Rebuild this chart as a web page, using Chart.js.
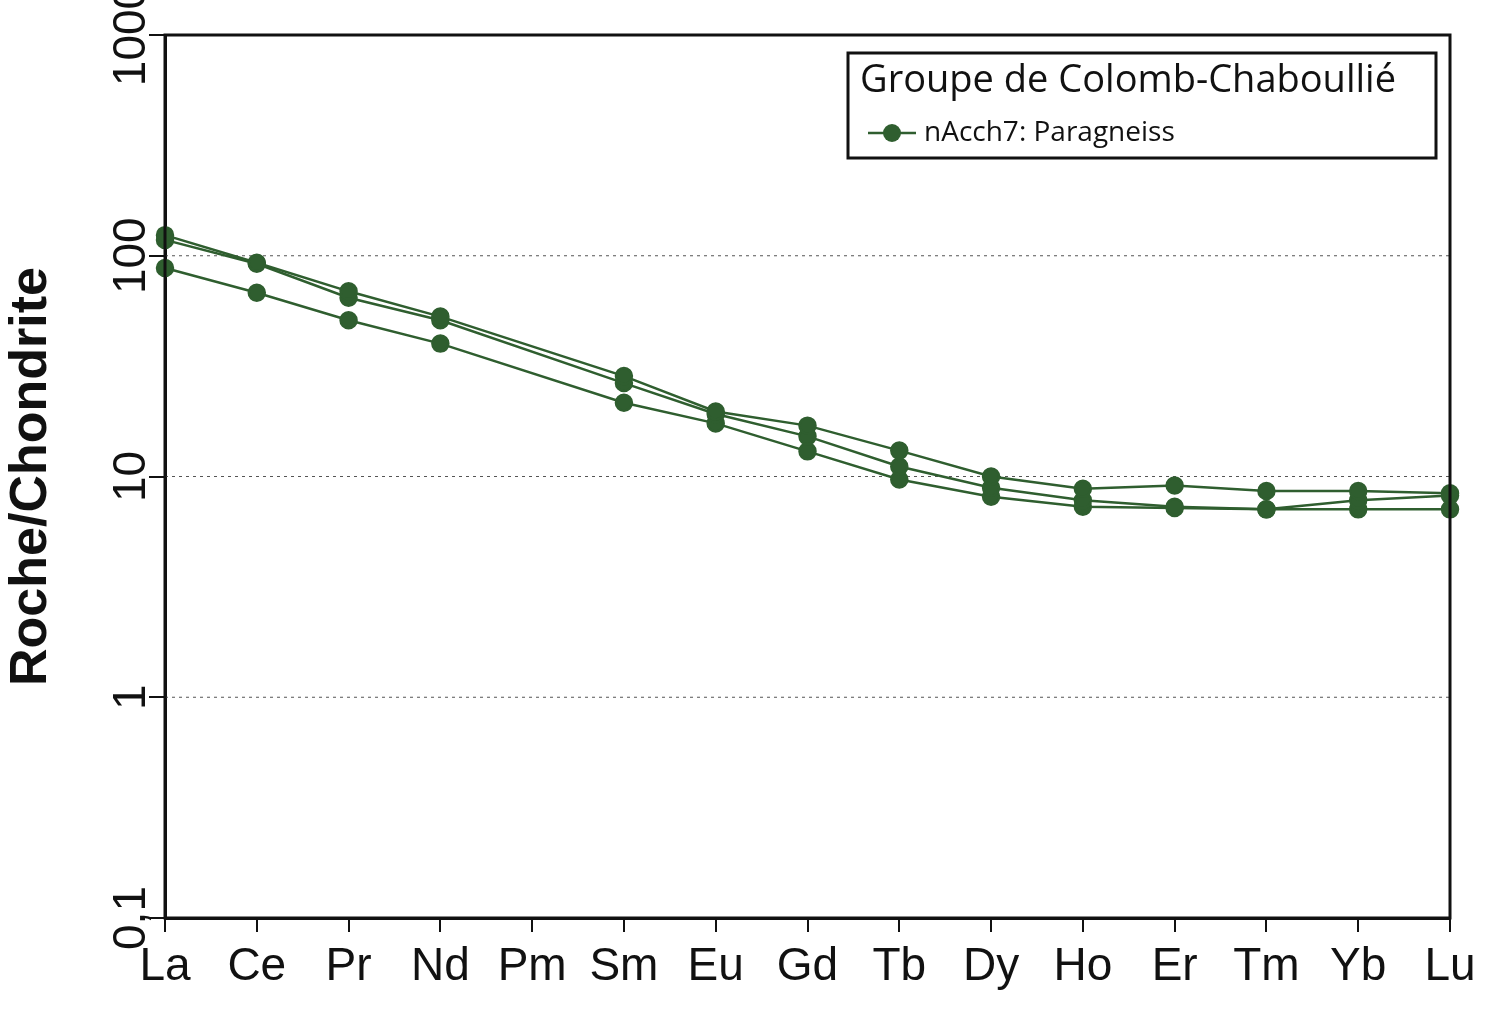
<!DOCTYPE html>
<html>
<head>
<meta charset="utf-8">
<script src="https://cdn.jsdelivr.net/npm/chart.js@4"></script>
<style>
  body { margin: 0; background: #fff; }
  #wrap { width: 1500px; height: 1036px; }
</style>
</head>
<body>
<div id="wrap"><canvas id="reeChart"></canvas></div>
<script>
// REE chondrite-normalised pattern, Pm not analysed
const elements = ['La','Ce','Pr','Nd','Pm','Sm','Eu','Gd','Tb','Dy','Ho','Er','Tm','Yb','Lu'];
const sampleA = [124, 93, 69, 53, null, 28.5, 19.7, 17, 13.1, 10, 8.8, 9.1, 8.6, 8.6, 8.4];
const sampleB = [118, 92, 64.5, 51, null, 26.5, 19.2, 15.2, 11.1, 8.9, 7.8, 7.3, 7.1, 7.8, 8.2];
const sampleC = [88, 68, 51, 40, null, 21.6, 17.4, 13, 9.7, 8.1, 7.3, 7.2, 7.1, 7.1, 7.1];
const yTicks = [0.1, 1, 10, 100, 1000];
const gridValues = [1, 10, 100];
const seriesLabel = 'nAcch7: Paragneiss';
const groupTitle = 'Groupe de Colomb-Chaboullié';

const green = '#2f5e2f';

function ds(data, label) {
  return {
    label: label, data: data, spanGaps: true,
    borderColor: green, backgroundColor: green,
    borderWidth: 2.5, pointRadius: 8, pointHoverRadius: 8
  };
}

// dotted grid, frame, rotated y labels
const frame = {
  id: 'frame',
  beforeDatasetsDraw(chart) {
    const c = chart.ctx, a = chart.chartArea, y = chart.scales.y;
    c.save();
    c.strokeStyle = '#555';
    c.lineWidth = 1.2;
    c.setLineDash([3, 4]);
    gridValues.forEach(v => {
      const py = y.getPixelForValue(v);
      c.beginPath(); c.moveTo(a.left, py); c.lineTo(a.right, py); c.stroke();
    });
    c.restore();
  },
  afterDraw(chart) {
    const c = chart.ctx, a = chart.chartArea, y = chart.scales.y;
    c.save();
    c.strokeStyle = '#111';
    c.lineWidth = 3;
    c.strokeRect(a.left, a.top, a.right - a.left, a.bottom - a.top);
    c.fillStyle = '#111';
    c.font = '46px "Liberation Sans", Arial, sans-serif';
    c.textAlign = 'center';
    c.textBaseline = 'alphabetic';
    yTicks.forEach(v => {
      const py = y.getPixelForValue(v);
      c.save();
      c.translate(a.left - 20, py);
      c.rotate(-Math.PI / 2);
      c.fillText(String(v).replace('.', ','), 0, 0);
      c.restore();
    });
    c.restore();
  }
};

// legend box drawn inside the plot area
const legendBox = {
  id: 'legendBox',
  afterDraw(chart) {
    const c = chart.ctx;
    const x = 848, y = 53, w = 588, h = 105;
    c.save();
    c.fillStyle = '#fff';
    c.fillRect(x, y, w, h);
    c.strokeStyle = '#111';
    c.lineWidth = 3;
    c.strokeRect(x, y, w, h);
    c.fillStyle = '#111';
    c.font = '38px "Open Sans", Lato, sans-serif';
    c.textBaseline = 'middle';
    c.fillText(groupTitle, x + 12, y + 28);
    c.strokeStyle = green;
    c.lineWidth = 2.5;
    c.beginPath(); c.moveTo(x + 20, y + 80); c.lineTo(x + 68, y + 80); c.stroke();
    c.fillStyle = green;
    c.beginPath(); c.arc(x + 44, y + 80, 9, 0, Math.PI * 2); c.fill();
    c.fillStyle = '#111';
    c.font = '28px "Open Sans", Lato, sans-serif';
    c.fillText(seriesLabel, x + 76, y + 80);
    c.restore();
  }
};

new Chart(document.getElementById('reeChart'), {
  type: 'line',
  data: {
    labels: elements,
    datasets: [ds(sampleA, seriesLabel), ds(sampleB, ''), ds(sampleC, '')]
  },
  options: {
    responsive: true,
    maintainAspectRatio: false,
    animation: false,
    layout: { padding: { top: 35, right: 50, bottom: 0, left: 0 } },
    plugins: { legend: { display: false }, tooltip: { enabled: false } },
    scales: {
      x: {
        offset: false,
        afterFit(axis) { axis.height = 118; },
        border: { color: '#111', width: 3 },
        grid: { display: true, drawOnChartArea: false, drawTicks: true, tickLength: 14, lineWidth: 2, color: '#111' },
        ticks: { color: '#111', font: { family: 'Liberation Sans, Arial', size: 46 }, padding: 8, maxRotation: 0 }
      },
      y: {
        type: 'logarithmic',
        min: 0.1, max: 1000,
        afterBuildTicks(axis) { axis.ticks = yTicks.map(v => ({ value: v })); },
        afterFit(axis) { axis.width = 165; },
        border: { color: '#111', width: 3 },
        grid: { display: true, drawOnChartArea: false, drawTicks: true, tickLength: 16, lineWidth: 2, color: '#111' },
        ticks: { display: false },
        title: {
          display: true, text: 'Roche/Chondrite', color: '#111', padding: { top: 0, bottom: 0 },
          font: { family: 'Liberation Sans, Arial', size: 52, weight: 'bold' }
        }
      }
    }
  },
  plugins: [frame, legendBox]
});
</script>
</body>
</html>
